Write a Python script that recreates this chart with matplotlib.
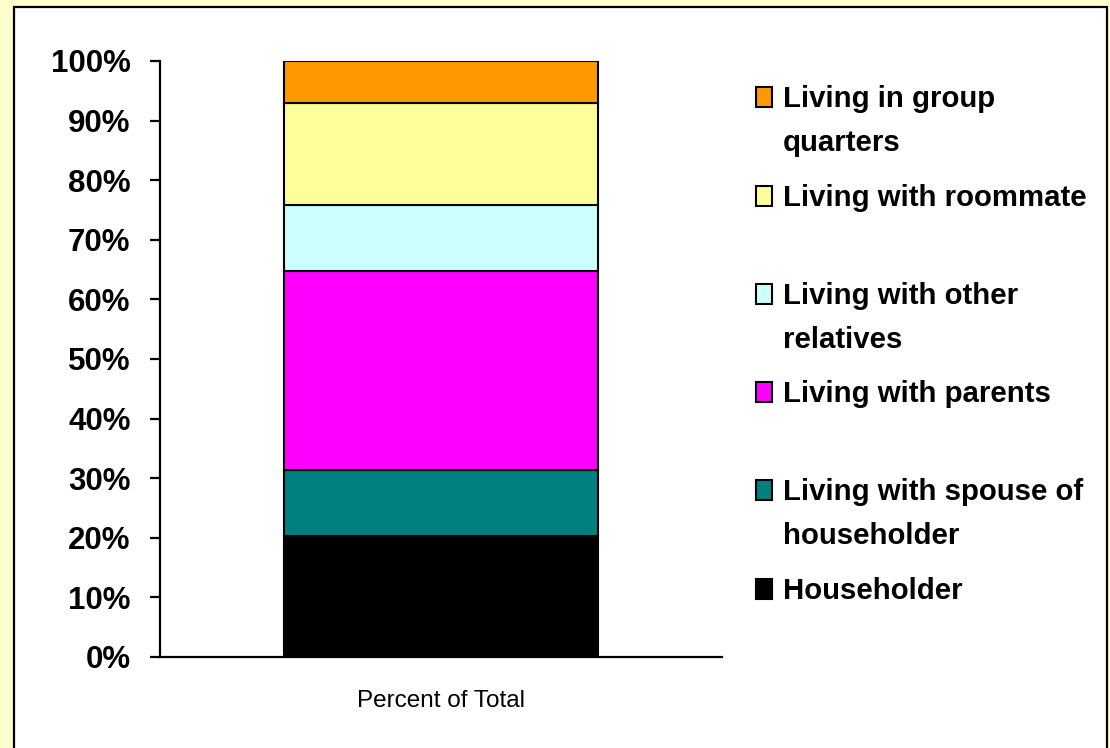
import matplotlib.pyplot as plt
from matplotlib.patches import Rectangle
from matplotlib.ticker import FuncFormatter

# data (bottom to top of the stacked bar)
categories = ['Percent of Total']
series = ['Householder', 'Living with spouse of householder', 'Living with parents',
          'Living with other relatives', 'Living with roommate', 'Living in group quarters']
legend_labels = ['Householder', 'Living with spouse of\nhouseholder', 'Living with parents',
                 'Living with other\nrelatives', 'Living with roommate', 'Living in group\nquarters']
values = [20.3, 11.1, 33.4, 11.0, 17.1, 7.1]
colors = ['#000000', '#008080', '#FF00FF', '#CCFFFF', '#FFFF99', '#FF9900']
yticks = list(range(0, 101, 10))

W, H = 1110, 748
plt.rcParams['font.family'] = ['Liberation Sans', 'DejaVu Sans']

fig = plt.figure(figsize=(W / 100, H / 100), dpi=100, facecolor='#FFFFCC')

def fx(px):
    return px / W

def fy(py):
    return 1 - py / H

# white panel with black frame
fig.add_artist(Rectangle((fx(14), fy(760)), fx(1107) - fx(14), fy(7) - fy(760),
                         transform=fig.transFigure, facecolor='white',
                         edgecolor='black', lw=1.6, zorder=0))

ax = fig.add_axes([fx(160), fy(657), fx(722) - fx(160), fy(61) - fy(657)])
ax.set_facecolor('none')

bottom = 0
for name, v, c in zip(series, values, colors):
    ax.bar(0, v, width=0.56, bottom=bottom, color=c, edgecolor='black', lw=1.5, label=name)
    bottom += v

ax.set_xlim(-0.5, 0.5)
ax.set_ylim(0, 100)
ax.set_yticks(yticks)
ax.yaxis.set_major_formatter(FuncFormatter(lambda v, p: '%d%%' % v))
ax.set_xticks([0], categories)
for s in ['top', 'right']:
    ax.spines[s].set_visible(False)
for s in ['left', 'bottom']:
    ax.spines[s].set_linewidth(1.6)
ax.tick_params(axis='y', direction='out', length=7.2, width=1.6, pad=14, labelsize=22.5)
for t in ax.get_yticklabels():
    t.set_fontweight('bold')
ax.tick_params(axis='x', length=0, pad=24, labelsize=17.5)

# legend, top entry first
for i, (lab, c) in enumerate(zip(legend_labels[::-1], colors[::-1])):
    cy = 97.2 + i * 98.3
    fig.add_artist(Rectangle((fx(756), fy(cy + 10)), fx(16), fy(0) - fy(20),
                             transform=fig.transFigure, facecolor=c,
                             edgecolor='black', lw=1.5))
    for k, line in enumerate(lab.split('\n')):
        fig.text(fx(783), fy(cy + 10 + k * 44), line, fontsize=21.2, fontweight='bold',
                 va='baseline', ha='left')

fig.savefig('out.png', dpi=100, facecolor=fig.get_facecolor())
